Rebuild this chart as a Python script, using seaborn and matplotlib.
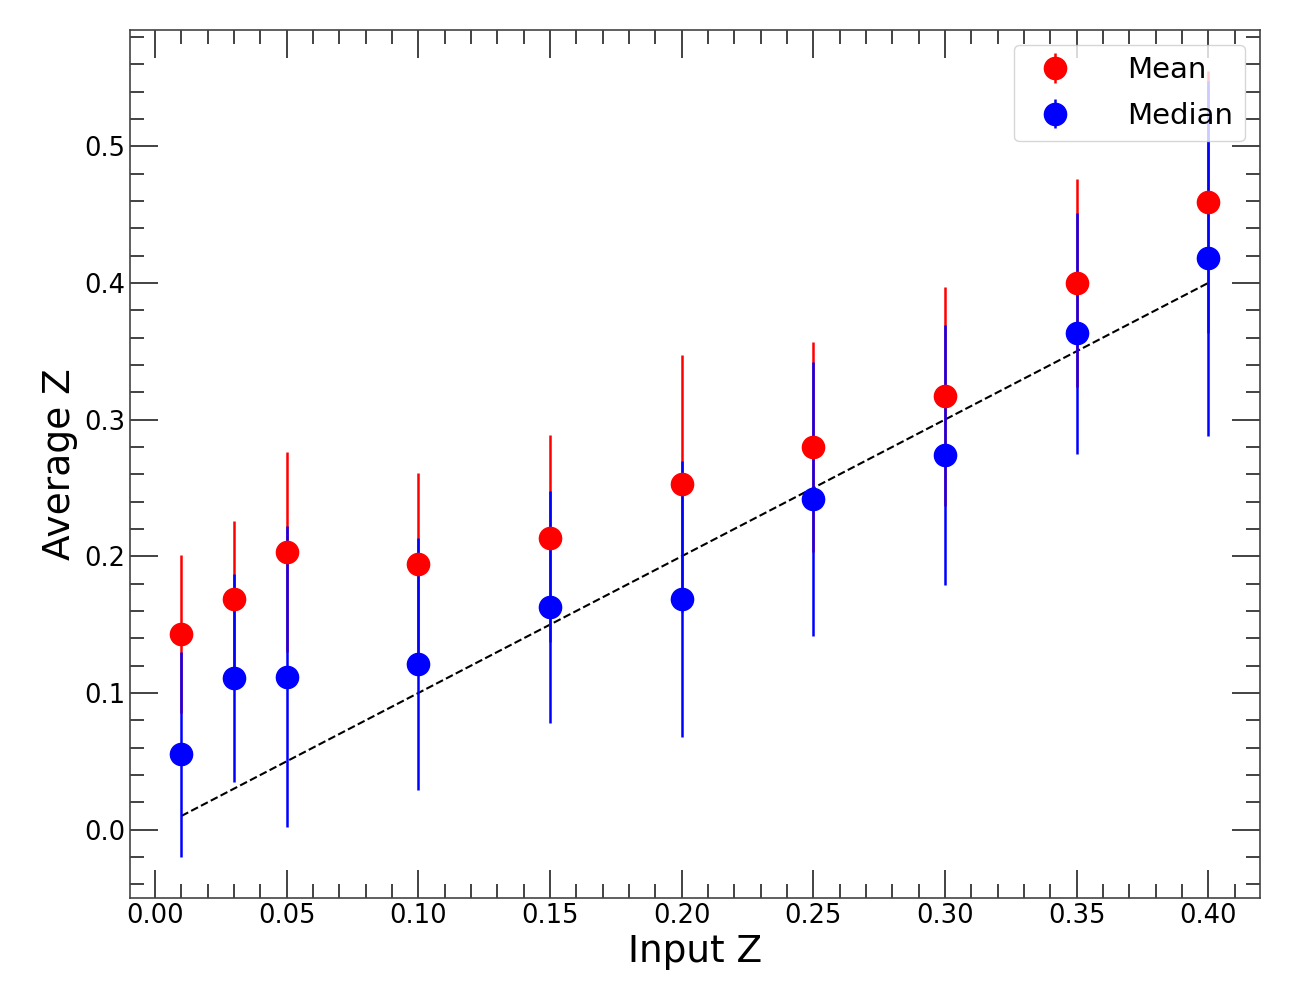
import numpy as np
import pandas as pd
import seaborn as sns
import matplotlib
matplotlib.use("Agg")
import matplotlib.pyplot as plt
from matplotlib.ticker import MultipleLocator

input_z = [0.01, 0.03, 0.05, 0.10, 0.15, 0.20, 0.25, 0.30, 0.35, 0.40]
mean_z = [0.143, 0.169, 0.203, 0.194, 0.213, 0.253, 0.280, 0.317, 0.400, 0.459]
mean_err = [0.058, 0.057, 0.073, 0.067, 0.076, 0.094, 0.077, 0.080, 0.076, 0.096]
median_z = [0.055, 0.111, 0.112, 0.121, 0.163, 0.169, 0.242, 0.274, 0.363, 0.418]
median_err = [0.075, 0.076, 0.110, 0.092, 0.085, 0.101, 0.100, 0.095, 0.088, 0.130]

df = pd.DataFrame({"input": input_z, "mean": mean_z, "mean_err": mean_err,
                   "median": median_z, "median_err": median_err})

sns.set_style("ticks")
plt.rcParams['font.family'] = ['DejaVu Sans']
plt.rcParams['text.color'] = 'black'
plt.rcParams['axes.labelcolor'] = 'black'
plt.rcParams['xtick.labelcolor'] = 'black'
plt.rcParams['ytick.labelcolor'] = 'black'

fig, ax = plt.subplots(figsize=(13, 10), dpi=100)
fig.subplots_adjust(left=0.1, right=0.969, top=0.97, bottom=0.102)

sns.lineplot(x=[input_z[0], input_z[-1]], y=[input_z[0], input_z[-1]], ax=ax,
             color="black", linestyle="--", linewidth=1.5, zorder=1.5)

for col, err, color, label in [("mean", "mean_err", "red", "Mean"),
                               ("median", "median_err", "blue", "Median")]:
    cont = ax.errorbar(df["input"], df[col], yerr=df[err], fmt="o", color=color,
                       markersize=16, elinewidth=1.8, capsize=0, label=label)
    cont[0].set_zorder(3)

ax.set_xlim(-0.0095, 0.4195)
ax.set_ylim(-0.05, 0.585)
ax.xaxis.set_major_locator(MultipleLocator(0.05))
ax.xaxis.set_minor_locator(MultipleLocator(0.01))
ax.yaxis.set_major_locator(MultipleLocator(0.1))
ax.yaxis.set_minor_locator(MultipleLocator(0.02))
ax.xaxis.set_major_formatter(matplotlib.ticker.FormatStrFormatter("%.2f"))
ax.yaxis.set_major_formatter(matplotlib.ticker.FormatStrFormatter("%.1f"))
ax.tick_params(which="both", direction="in", top=True, right=True, color="#222222",
               labelcolor="black")
ax.tick_params(which="major", length=20, width=1.2, labelsize=18.5)
ax.tick_params(which="minor", length=10, width=1.2)
for s in ax.spines.values():
    s.set_color("#444444")
    s.set_linewidth(1.2)

ax.set_xlabel("Input Z", fontsize=27, color="black")
ax.set_ylabel("Average Z", fontsize=27, color="black")
leg = ax.legend(loc="upper right", fontsize=21, frameon=True, handletextpad=1.5,
                labelspacing=0.6)
for t in leg.get_texts():
    t.set_color("black")

fig.savefig("out.png", dpi=100)
